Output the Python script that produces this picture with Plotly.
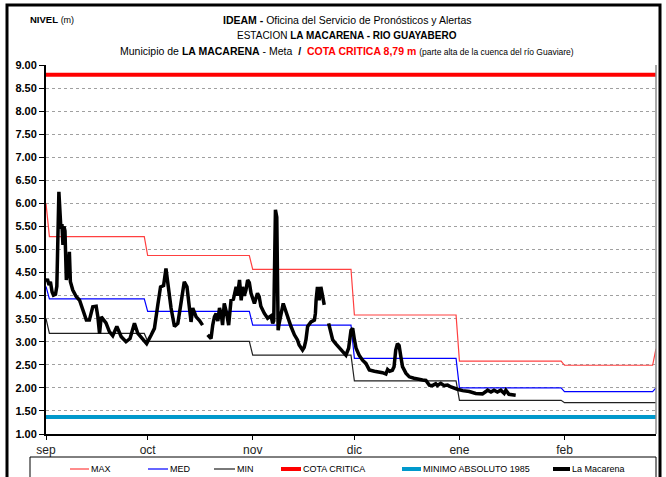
import pandas as pd
import plotly.graph_objects as go

# Niveles de referencia (m): máximos, medios y mínimos del registro histórico
fechas_ref = ["2014-09-01", "2014-09-02", "2014-09-30", "2014-10-01", "2014-10-31",
              "2014-11-01", "2014-11-30", "2014-12-01", "2014-12-31", "2015-01-01",
              "2015-01-31", "2015-02-01", "2015-02-27", "2015-02-28"]
nivel_max = [6.00, 5.28, 5.28, 4.87, 4.87, 4.57, 4.57, 3.58, 3.58, 2.58, 2.58, 2.49, 2.49, 2.85]
nivel_med = [4.20, 3.93, 3.93, 3.66, 3.66, 3.36, 3.36, 2.64, 2.64, 2.00, 2.00, 1.92, 1.92, 2.00]
nivel_min = [3.50, 3.18, 3.18, 3.01, 3.01, 2.71, 2.71, 2.15, 2.15, 1.73, 1.73, 1.68, 1.68, 1.68]

cota_critica = 8.79
minimo_absoluto_1985 = 1.37

# Lecturas de la estación La Macarena: días desde el 1 de septiembre y nivel (m).
# None marca los periodos sin dato.
dias = [0.0, 0.4, 0.9, 1.3, 1.8, 2.2, 2.8, 3.2, 3.8, 4.1,
        4.4, 4.7, 5.0, 5.3, 5.6, 6.0, 6.5, 6.9, 7.2, 7.9,
        8.9, 9.9, 10.8, 11.9, 12.8, 13.8, 14.8, 15.3, 15.8, 16.3,
        17.7, 18.7, 19.7, 20.9, 22.2, 23.6, 24.8, 26.1, 27.1, 28.5,
        29.7, 31.0, 32.0, 33.0, 33.8, 34.7, 35.4, 35.9, 36.9, 37.9,
        38.9, 39.9, 40.8, 41.6, 42.3, 42.8, 43.3, 44.3, 45.3, 46.2,
        47.0,
        47.7, 48.7, 49.2, 49.7, 50.2, 50.7, 51.2, 51.7, 52.1, 52.6,
        53.2, 53.9, 54.6, 55.3, 56.1, 56.5, 57.1, 57.6, 58.0, 58.5,
        59.0, 59.5, 60.0, 60.5, 61.5, 62.4, 62.9, 63.4, 64.4, 65.4,
        66.4, 66.9, 67.2, 67.7, 68.1, 68.5, 68.8, 69.3, 70.0, 70.6,
        71.3, 72.3, 73.3, 74.2, 74.7, 75.7, 76.2, 76.7, 77.2, 78.2,
        79.2, 79.5, 79.7, 80.1, 80.6, 81.1, 81.6, 82.1,
        82.7,
        83.4, 84.1, 84.6, 85.6, 86.5, 87.5, 88.5, 89.3, 90.0, 90.5,
        91.0, 91.5, 92.4, 93.4, 94.4, 95.4, 96.9, 98.3, 99.3, 100.3,
        100.8, 101.4, 102.2, 102.7, 103.2, 103.7, 104.2, 104.7, 105.2, 106.2,
        107.2, 108.6, 109.6, 111.1, 112.1, 113.1, 114.0, 115.0, 115.5, 116.5,
        117.5, 118.5, 119.5, 120.4, 121.4, 122.9, 124.9, 126.8, 127.8, 128.8,
        129.8, 130.3, 131.3, 132.2, 133.2, 134.2, 135.2, 135.7, 136.6, 137.6,
        138.6]
niveles = [4.30, 4.36, 4.23, 4.30, 4.08, 4.01, 4.03, 4.20, 6.25, 5.70,
           5.45, 5.55, 5.10, 5.50, 5.40, 4.34, 4.55, 4.95, 4.30, 4.12,
           3.98, 3.90, 3.69, 3.47, 3.47, 3.76, 3.77, 3.54, 3.18, 3.54,
           3.41, 3.22, 3.13, 3.33, 3.11, 3.00, 3.07, 3.40, 3.18, 3.07,
           2.96, 3.14, 3.29, 3.80, 4.19, 4.22, 4.59, 4.30, 3.73, 3.33,
           3.40, 3.87, 4.30, 4.19, 3.80, 3.43, 3.73, 3.54, 3.46, 3.36,
           None,
           3.15, 3.07, 3.36, 3.54, 3.61, 3.45, 3.73, 3.60, 3.36, 3.83,
           3.65, 3.36, 3.90, 3.92, 4.19, 4.00, 4.34, 3.90, 4.19, 4.00,
           4.12, 4.34, 4.28, 4.05, 3.83, 4.05, 3.98, 3.77, 3.62, 3.51,
           3.56, 3.40, 3.45, 5.86, 5.70, 3.25, 3.40, 3.62, 3.83, 3.70,
           3.54, 3.33, 3.15, 3.04, 2.93, 2.82, 2.88, 3.04, 3.33, 3.43,
           3.47, 3.62, 3.90, 4.19, 3.90, 4.19, 4.00, 3.80,
           None,
           3.40, 3.18, 3.04, 2.95, 2.86, 2.79, 2.71, 2.86, 3.25, 3.29,
           3.05, 2.86, 2.71, 2.60, 2.53, 2.39, 2.36, 2.35, 2.33, 2.30,
           2.40, 2.36, 2.38, 2.46, 2.82, 2.96, 2.92, 2.68, 2.46, 2.32,
           2.24, 2.21, 2.19, 2.17, 2.16, 2.06, 2.05, 2.09, 2.05, 2.10,
           2.05, 2.06, 2.02, 1.99, 1.97, 1.94, 1.92, 1.88, 1.88, 1.87,
           1.92, 1.95, 1.91, 1.95, 1.91, 1.95, 1.88, 1.95, 1.86, 1.85,
           1.84]

meses_pos = ["2014-09-01", "2014-10-01", "2014-11-01", "2014-12-01", "2015-01-01", "2015-02-01"]
meses_txt = ["sep", "oct", "nov", "dic", "ene", "feb"]
y_ticks = [1.0 + 0.5 * i for i in range(17)]

fecha_ini = "2014-09-01"
fecha_fin = "2015-02-28"
inicio = pd.Timestamp(fecha_ini)
fechas = [inicio + pd.Timedelta(days=d) for d in dias]

W, H = 666, 477
ML, MR, MT, MB = 46, 10, 65, 43
PW, PH = W - ML - MR, H - MT - MB

FUENTE = "Liberation Sans, Arial, sans-serif"
C_MAX, C_MED, C_MIN = "#ff4040", "#0000ff", "#202020"
C_COTA, C_MINABS, C_EST = "#ff0000", "#0099cc", "#000000"


def px(x):
    return (x - ML) / PW


def py(y):
    return (H - MB - y) / PH


fig = go.Figure()
fig.add_trace(go.Scatter(x=fechas_ref, y=nivel_max, mode="lines", name="MAX",
                         line=dict(color=C_MAX, width=1.2)))
fig.add_trace(go.Scatter(x=fechas_ref, y=nivel_med, mode="lines", name="MED",
                         line=dict(color=C_MED, width=1.2)))
fig.add_trace(go.Scatter(x=fechas_ref, y=nivel_min, mode="lines", name="MIN",
                         line=dict(color=C_MIN, width=1.2)))
fig.add_trace(go.Scatter(x=[fecha_ini, fecha_fin], y=[cota_critica] * 2, mode="lines",
                         name="COTA CRITICA", line=dict(color=C_COTA, width=4)))
fig.add_trace(go.Scatter(x=[fecha_ini, fecha_fin], y=[minimo_absoluto_1985] * 2, mode="lines",
                         name="MINIMO ABSOLUTO 1985", line=dict(color=C_MINABS, width=4)))
fig.add_trace(go.Scatter(x=fechas, y=niveles, mode="lines", name="La Macarena",
                         connectgaps=False, line=dict(color=C_EST, width=3.5)))

fig.update_layout(
    width=W, height=H,
    margin=dict(l=ML, r=MR, t=MT, b=MB),
    paper_bgcolor="white", plot_bgcolor="white",
    showlegend=False,
    font=dict(family=FUENTE, color="#000000"),
)
fig.update_xaxes(
    type="date", range=[fecha_ini, fecha_fin],
    tickvals=meses_pos, ticktext=meses_txt,
    ticks="outside", ticklen=4, tickcolor="#000000",
    tickfont=dict(family=FUENTE, size=12, color="#222222"),
    showgrid=False, zeroline=False,
    showline=True, linecolor="#000000", linewidth=1.5,
)
fig.update_yaxes(
    range=[1, 9], tickvals=y_ticks, tickformat=".2f",
    ticks="outside", ticklen=5, tickcolor="#000000",
    tickfont=dict(family=FUENTE, size=11, color="#000000", weight="bold"),
    showgrid=True, gridcolor="#a0a0a0", griddash="dot", gridwidth=1,
    zeroline=False, showline=True, linecolor="#000000", linewidth=2,
)

shapes = [
    # borde derecho del área de trazado
    dict(type="line", xref="paper", yref="paper", x0=1, x1=1, y0=0, y1=1,
         line=dict(color="#8c8c8c", width=1.5)),
    # marco exterior
    dict(type="rect", xref="paper", yref="paper", x0=px(7), x1=px(660), y0=py(500), y1=py(5),
         line=dict(color="#000000", width=3)),
    # recuadro de la leyenda
    dict(type="rect", xref="paper", yref="paper", x0=px(30), x1=px(656), y0=py(495), y1=py(457),
         line=dict(color="#000000", width=1)),
]

# Leyenda: (texto, color, grosor, inicio de la muestra, inicio del texto)
leyenda = [
    ("MAX", C_MAX, 1.2, 70, 89),
    ("MED", C_MED, 1.2, 148, 168),
    ("MIN", C_MIN, 1.2, 214, 235),
    ("COTA CRITICA", C_COTA, 4, 281, 301),
    ("MINIMO ABSOLUTO 1985", C_MINABS, 4, 402, 421),
    ("La Macarena", C_EST, 4, 553, 570),
]
annotations = []
ley_y = 469
for texto, color, grosor, x0, xt in leyenda:
    shapes.append(dict(type="line", xref="paper", yref="paper", x0=px(x0), x1=px(xt),
                       y0=py(ley_y), y1=py(ley_y), line=dict(color=color, width=grosor)))
    annotations.append(dict(xref="paper", yref="paper", x=px(xt), y=py(ley_y), text=texto,
                            showarrow=False, xanchor="left", yanchor="middle",
                            font=dict(family=FUENTE, size=9, color="#000000")))

titulo = [
    ("<b>IDEAM -</b> Oficina del Servicio de Pronósticos y Alertas", 20, 10.5),
    ("ESTACION <b>LA MACARENA - RIO GUAYABERO</b>", 36, 10),
    ("Municipio de <b>LA MACARENA</b> - Meta  <b>/</b>  "
     "<span style='color:#ff0000'><b>COTA CRITICA 8,79 m</b></span> "
     "<span style='font-size:8.5px'>(parte alta de la cuenca del río Guaviare)</span>", 51, 10.5),
]
for texto, yv, tam in titulo:
    annotations.append(dict(xref="paper", yref="paper", x=px(347), y=py(yv), text=texto,
                            showarrow=False, xanchor="center", yanchor="middle",
                            font=dict(family=FUENTE, size=tam, color="#000000")))
annotations.append(dict(xref="paper", yref="paper", x=px(28), y=py(20),
                        text="<b>NIVEL</b> <span style='font-size:9px'>(m)</span>",
                        showarrow=False, xanchor="left", yanchor="middle",
                        font=dict(family=FUENTE, size=9.5, color="#000000")))

fig.update_layout(shapes=shapes, annotations=annotations)
fig.write_html("out.html")
